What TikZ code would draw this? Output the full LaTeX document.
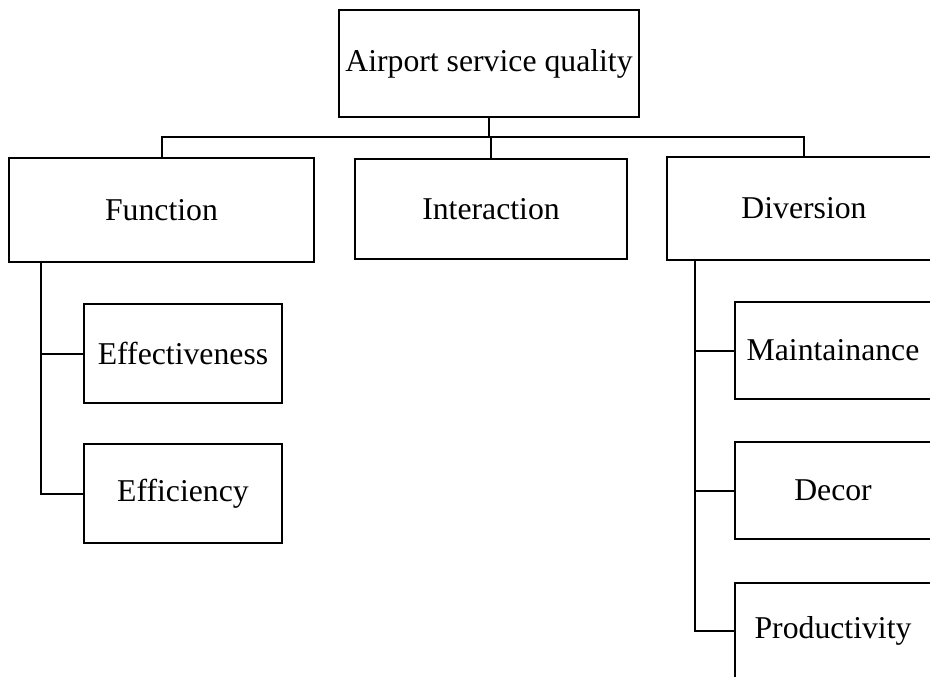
\documentclass[tikz,border=0pt]{standalone}
\usepackage{fontspec}
\setmainfont{Liberation Serif}
\usetikzlibrary{calc,positioning}

\begin{document}
\begin{tikzpicture}[x=0.75pt,y=-0.75pt,line width=1.5pt,
    box/.style={draw,inner sep=0pt,outer sep=0pt,align=center,
      font=\fontsize{23.8}{28}\selectfont}]
  \path[use as bounding box,clip] (0,0) rectangle (930,677);
  % top level
  \node[box,minimum width=300*0.75pt,minimum height=107*0.75pt] (root) at (489,63.5) {Airport service quality};
  \node[box,minimum width=305*0.75pt,minimum height=104*0.75pt] (func) at (161.5,210) {Function};
  \node[box,minimum width=272*0.75pt,minimum height=100*0.75pt] (inter) at (491,209) {Interaction};
  \node[box,minimum width=274*0.75pt,minimum height=103*0.75pt] (div) at (804,208.5) {Diversion};
  % function branch
  \node[box,minimum width=198*0.75pt,minimum height=99*0.75pt] (effect) at (183,353.5) {Effectiveness};
  \node[box,minimum width=198*0.75pt,minimum height=99*0.75pt] (effic) at (183,493.5) {Efficiency};
  % diversion branch
  \node[box,minimum width=196*0.75pt,minimum height=97*0.75pt] (maint) at (833,350.5) {Maintainance};
  \node[box,minimum width=196*0.75pt,minimum height=97*0.75pt] (decor) at (833,490.5) {Decor};
  \node[box,minimum width=196*0.75pt,minimum height=97*0.75pt] (prod) at (833,631) {Productivity};
  % connectors
  \coordinate (bar) at (489,137.5);
  \draw (root.south) -- (bar);
  \draw (func.north) |- (bar) -| (div.north);
  \draw (inter.north) -- (inter.north |- bar);
  \coordinate (fspine) at ($(func.south west)+(32,0)$);
  \draw (fspine) |- (effic.west);
  \draw (effect.west) -- (effect.west -| fspine);
  \coordinate (dspine) at ($(div.south west)+(28,0)$);
  \draw (dspine) |- (prod.west);
  \draw (maint.west) -- (maint.west -| dspine);
  \draw (decor.west) -- (decor.west -| dspine);
\end{tikzpicture}
\end{document}
